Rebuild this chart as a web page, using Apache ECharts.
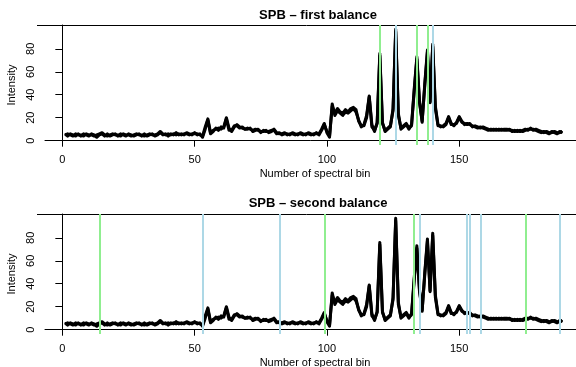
<!DOCTYPE html>
<html>
<head>
<meta charset="utf-8">
<script src="https://cdn.jsdelivr.net/npm/echarts@6/dist/echarts.min.js"></script>
<style>
  html, body { margin: 0; padding: 0; background: #fff; }
  #chart { width: 576px; height: 367px; }
</style>
</head>
<body>
<div id="chart"></div>
<script>
// Spectral intensities, bins 1..189 (two overlapping samples,
// the same spectra appear in both panels)
const sampleA = [
  5, 6, 5, 4, 6, 5, 5, 4, 6, 5,
  5, 4, 5, 6, 7, 5, 4, 5, 6, 5,
  5, 4, 6, 5, 5, 4, 5, 6, 5, 5,
  4, 5, 6, 5, 5, 6, 8, 6, 5, 6,
  5, 6, 5, 6, 5, 6, 6, 5, 6, 6,
  6, 5, 4, 12, 19, 7, 9, 10, 11, 10,
  12, 20, 11, 8, 12, 14, 12, 11, 10, 11,
  10, 9, 10, 9, 8, 8, 9, 7, 8, 10,
  7, 6, 6, 7, 5, 6, 6, 5, 6, 6,
  5, 6, 6, 5, 6, 6, 6, 10, 15, 7,
  3, 32, 22, 26, 24, 22, 25, 24, 26, 28,
  25, 18, 12, 14, 22, 39, 14, 8, 16, 76,
  16, 8, 10, 12, 28, 97, 24, 10, 12, 14,
  10, 14, 45, 73, 35, 16, 50, 79, 34, 84,
  30, 14, 12, 13, 15, 21, 15, 13, 16, 21,
  17, 14, 15, 14, 13, 12, 11, 12, 11, 10,
  9, 10, 9, 10, 9, 10, 9, 9, 10, 8,
  9, 8, 9, 8, 9, 10, 10, 10, 9, 8,
  7, 8, 7, 6, 8, 7, 6, 8, 7
];
const sampleB = [
  6, 4, 6, 5, 4, 6, 4, 6, 5, 4,
  6, 5, 3, 5, 6, 4, 6, 4, 5, 6,
  4, 6, 5, 4, 6, 5, 4, 5, 6, 4,
  6, 4, 5, 6, 4, 5, 7, 5, 6, 4,
  6, 5, 7, 5, 6, 5, 7, 6, 5, 7,
  5, 6, 3, 10, 18, 6, 8, 11, 9, 12,
  11, 19, 9, 9, 13, 13, 11, 12, 10, 10,
  11, 8, 9, 10, 7, 9, 8, 8, 9, 9,
  6, 7, 5, 6, 6, 5, 7, 6, 5, 7,
  6, 5, 7, 6, 5, 7, 5, 9, 14, 8,
  4, 30, 24, 28, 25, 24, 27, 25, 28, 29,
  27, 17, 13, 13, 20, 38, 12, 9, 15, 74,
  15, 9, 11, 13, 26, 95, 22, 11, 13, 15,
  11, 13, 43, 71, 33, 17, 48, 77, 33, 82,
  28, 13, 13, 12, 14, 20, 14, 14, 15, 20,
  16, 15, 14, 15, 12, 13, 12, 11, 12, 11,
  10, 9, 10, 9, 10, 9, 10, 10, 9, 9,
  8, 9, 8, 9, 10, 9, 11, 9, 10, 9,
  8, 7, 8, 7, 7, 8, 7, 7, 8
];
const bins = sampleA.map((v, i) => i + 1);

// Selected bins marked by vertical lines
const firstGreen = [120, 134, 138];
const firstBlue = [126, 140];
const secondGreen = [14, 99, 133, 175];
const secondBlue = [53, 82, 135, 153, 154, 158, 188];

const xTicks = [0, 50, 100, 150];
const yTicks = [0, 20, 40, 60, 80];

const titles = ['SPB \u2013 first balance', 'SPB \u2013 second balance'];

const GREEN = '#90EE90';
const BLUE = '#ADD8E6';
const FONT = 'Liberation Sans, Arial, sans-serif';

const samples = [sampleA, sampleB].map(s => bins.map((b, i) => [b, s[i]]));

function vlines(values, color) {
  return values.map(v => ({ xAxis: v, lineStyle: { color: color, width: 2, type: 'solid' } }));
}

// Plot region runs past the right edge of the picture, as in the original
const grids = [
  { left: 45, top: 25, width: 540, height: 120, outerBoundsMode: 'none', containLabel: false },
  { left: 45, top: 214, width: 540, height: 120, outerBoundsMode: 'none', containLabel: false }
];

function xAxis(idx) {
  return {
    type: 'value', gridIndex: idx, min: -6.56, max: 197.56,
    name: 'Number of spectral bin', nameLocation: 'middle', nameGap: 23,
    nameTextStyle: { fontFamily: FONT, fontSize: 11, color: '#000' },
    axisLine: { show: true, lineStyle: { color: '#000', width: 1 } },
    axisTick: { show: true, customValues: xTicks, length: 6, lineStyle: { color: '#000' } },
    axisLabel: { customValues: xTicks, margin: 9, fontFamily: FONT, fontSize: 11, color: '#000' },
    splitLine: { show: false }
  };
}

function yAxis(idx) {
  return {
    type: 'value', gridIndex: idx, min: -3.75, max: 100.7,
    name: 'Intensity', nameLocation: 'middle', nameGap: 27, nameRotate: 90,
    nameTextStyle: { fontFamily: FONT, fontSize: 11, color: '#000' },
    axisLine: { show: true, lineStyle: { color: '#000', width: 1 } },
    axisTick: { show: true, customValues: yTicks, length: 7, lineStyle: { color: '#000' } },
    axisLabel: { customValues: yTicks, rotate: 90, margin: 9, fontFamily: FONT, fontSize: 11, color: '#000' },
    splitLine: { show: false }
  };
}

function panelSeries(idx, green, blue) {
  const out = [{
    type: 'line', xAxisIndex: idx, yAxisIndex: idx, data: [], z: 1,
    markLine: { silent: true, symbol: 'none', label: { show: false }, animation: false,
      data: vlines(green, GREEN).concat(vlines(blue, BLUE)) }
  }];
  samples.forEach(data => {
    out.push({
      type: 'line', xAxisIndex: idx, yAxisIndex: idx, data: data, z: 3,
      showSymbol: false, symbol: 'none',
      lineStyle: { color: '#000', width: 3, join: 'round' }
    });
  });
  return out;
}

const chart = echarts.init(document.getElementById('chart'), null, { renderer: 'canvas' });
chart.setOption({
  animation: false,
  backgroundColor: '#fff',
  title: [
    { text: titles[0], left: 313, top: 4, textAlign: 'center',
      textStyle: { fontFamily: FONT, fontSize: 13, fontWeight: 'bold', color: '#000' } },
    { text: titles[1], left: 313, top: 192, textAlign: 'center',
      textStyle: { fontFamily: FONT, fontSize: 13, fontWeight: 'bold', color: '#000' } }
  ],
  grid: grids,
  xAxis: [xAxis(0), xAxis(1)],
  yAxis: [yAxis(0), yAxis(1)],
  series: panelSeries(0, firstGreen, firstBlue).concat(panelSeries(1, secondGreen, secondBlue)),
  graphic: grids.map(g => ({
    type: 'line', silent: true,
    shape: { x1: 37, y1: g.top + 0.5, x2: 576, y2: g.top + 0.5 },
    style: { stroke: '#000', lineWidth: 1 }
  }))
});
</script>
</body>
</html>
